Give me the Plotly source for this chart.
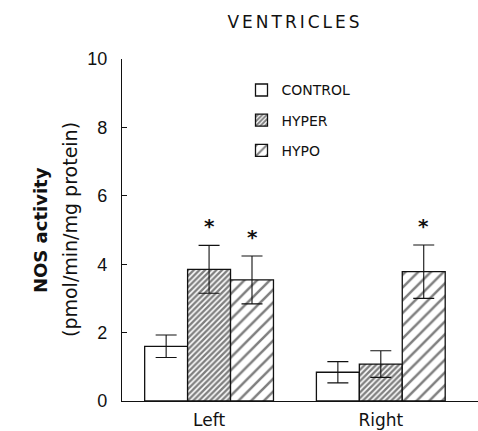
import plotly.graph_objects as go

categories = ["Left", "Right"]
series_names = ["CONTROL", "HYPER", "HYPO"]
control_vals = [1.60, 0.84]
hyper_vals = [3.85, 1.08]
hypo_vals = [3.54, 3.78]
control_err = [0.33, 0.31]
hyper_err = [0.70, 0.39]
hypo_err = [0.70, 0.78]
# significance markers: (series index, category index)
significant = [(1, 0), (2, 0), (2, 1)]

values = [control_vals, hyper_vals, hypo_vals]
errors = [control_err, hyper_err, hypo_err]
patterns = [
    dict(shape=""),
    dict(shape="/", size=4, solidity=0.6, fgcolor="#000", bgcolor="white"),
    dict(shape="/", size=9, solidity=0.28, fgcolor="#000", bgcolor="white"),
]

x_idx = list(range(len(categories)))
fig = go.Figure()
for i, name in enumerate(series_names):
    fig.add_trace(go.Bar(
        x=x_idx, y=values[i], name=name, legendgroup=name,
        marker=dict(color="white", line=dict(color="#111", width=1.3), pattern=patterns[i]),
        error_y=dict(type="data", array=errors[i], visible=True, color="#111", thickness=1.1, width=10.5),
    ))

bar_w = 0.25
for (s, c) in significant:
    xpos = c + (s - 1) * bar_w
    fig.add_annotation(x=xpos, y=values[s][c] + errors[s][c], text="<b>*</b>", showarrow=False,
                       yshift=19, font=dict(family="DejaVu Sans", size=20, color="#111"))

fig.add_annotation(text="<b>NOS activity</b>", xref="paper", yref="paper", x=(40 - 122) / 356, y=0.5,
                   textangle=-90, showarrow=False, xanchor="center", yanchor="middle",
                   font=dict(family="DejaVu Sans", size=18, color="#111"))
fig.add_annotation(text="(pmol/min/mg protein)", xref="paper", yref="paper", x=(70 - 122) / 356, y=0.5,
                   textangle=-90, showarrow=False, xanchor="center", yanchor="middle",
                   font=dict(family="DejaVu Sans", size=19, color="#111"))

fig.update_layout(
    width=478, height=431,
    margin=dict(l=122, r=0, t=59, b=30, autoexpand=False),
    paper_bgcolor="white", plot_bgcolor="white",
    barmode="group", bargap=0.25, bargroupgap=0,
    title=dict(text='<span style="letter-spacing:3px">VENTRICLES</span>', x=(295) / 478, xanchor="center",
               y=1 - 22 / 431, yanchor="middle",
               font=dict(family="DejaVu Sans", size=17, color="#111")),
    legend=dict(x=(241.5 - 122) / 356, y=0.955, xanchor="left", yanchor="top",
                bgcolor="rgba(0,0,0,0)", tracegroupgap=9,
                font=dict(family="DejaVu Sans", size=14, color="#111")),
    showlegend=True,
)
fig.update_xaxes(range=[-0.507, 1.566], tickvals=x_idx, ticktext=categories, showline=True,
                 linecolor="#111", linewidth=1.2, ticks="", showgrid=False, zeroline=False,
                 ticklabelstandoff=3, automargin=False,
                 tickfont=dict(family="DejaVu Sans", size=17, color="#111"))
fig.update_yaxes(range=[0, 10], tickvals=[0, 2, 4, 6, 8, 10], showline=True, linecolor="#111",
                 linewidth=1.2, ticks="inside", ticklen=5, tickcolor="#111", showgrid=False,
                 zeroline=False, ticklabelstandoff=10, automargin=False,
                 tickfont=dict(family="Liberation Sans", size=18, color="#111"))

fig.write_html("out.html")
